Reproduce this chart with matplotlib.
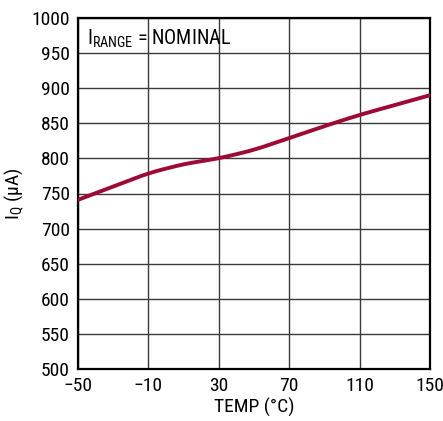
import matplotlib
matplotlib.use("Agg")
import matplotlib.pyplot as plt
from matplotlib import font_manager
import numpy as np

names = {f.name for f in font_manager.fontManager.ttflist}
cond = [n for n in ['Liberation Sans Narrow', 'DejaVu Sans Condensed', 'Roboto Condensed'] if n in names]
plt.rcParams['font.family'] = cond + ['DejaVu Sans']
if not cond:
    plt.rcParams['font.stretch'] = 'condensed'

temp = [-50, -30, -10, 10, 30, 50, 70, 90, 110, 130, 150]
iq = [741, 760, 779, 792, 800, 812, 829, 846, 862, 876, 890]

xticks = [-50, -10, 30, 70, 110, 150]
xlabels = ['\u221250', '\u221210', '30', '70', '110', '150']
yticks = list(range(500, 1001, 50))

fig = plt.figure(figsize=(4.43, 4.21), dpi=100)
ax = fig.add_axes([78 / 443, 52 / 421, 352 / 443, 351 / 421])

# smooth line through the read points
xs = np.linspace(-50, 150, 400)
ys = np.interp(xs, temp, iq)
k = np.ones(31) / 31
ys_s = np.convolve(np.pad(ys, 15, mode='reflect', reflect_type='odd'), k, mode='valid')
ax.plot(xs, ys_s, color='#9e0a35', lw=2.8, solid_capstyle='round', zorder=3)

ax.set_xlim(-50, 150)
ax.set_ylim(500, 1000)
ax.set_xticks(xticks)
ax.set_xticklabels(xlabels)
ax.set_yticks(yticks)
ax.grid(True, color='#3a3a3a', lw=1.0)
ax.tick_params(length=0, labelsize=14, pad=6)
for s in ax.spines.values():
    s.set_linewidth(1.6)
    s.set_color('black')

ax.set_xlabel('TEMP (\u00b0C)', fontsize=14, labelpad=2)
ax.set_ylabel('I$_\\mathregular{Q}$ (\u00b5A)', fontsize=14, labelpad=4)
ax.text(0.025, 0.94, 'I$_\\mathregular{RANGE}$ = NOMINAL', transform=ax.transAxes,
        fontsize=14.5, va='center', ha='left')

fig.savefig('out.png', dpi=100)
